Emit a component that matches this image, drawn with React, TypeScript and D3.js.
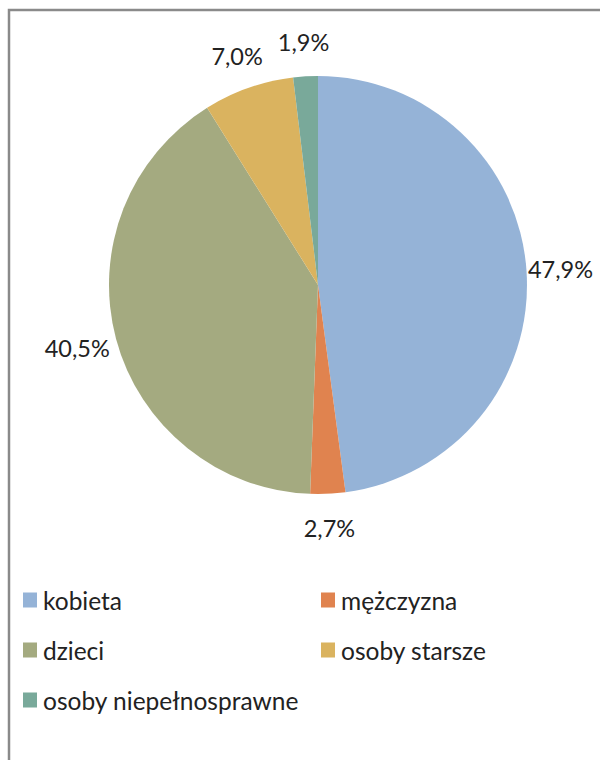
import * as d3 from 'd3';

const labels = ['kobieta', 'mężczyzna', 'dzieci', 'osoby starsze', 'osoby niepełnosprawne'];
const values = [47.9, 2.7, 40.5, 7.0, 1.9];
const colors = ['#95B3D7', '#E0834F', '#A4AA80', '#DAB35F', '#79A99A'];

export default function App() {
  const w = 600;
  const h = 760;
  const cx = 318;
  const cy = 285;
  const r = 209;
  const labelR = 243;
  const font = 'Lato, "Open Sans", sans-serif';

  const pie = d3.pie<number>().sort(null).value((d) => d);
  const arcs = pie(values);
  const arc = d3.arc<d3.PieArcDatum<number>>().innerRadius(0).outerRadius(r);
  const labelArc = d3.arc<d3.PieArcDatum<number>>().innerRadius(labelR).outerRadius(labelR);

  const fmt = (v: number) => v.toFixed(1).replace('.', ',') + '%';

  // legend: two columns, rows filled left to right
  const colX = [23, 321];
  const rowY = [600, 650, 700];

  return (
    <svg
      width={w}
      height={h}
      style={{ position: 'absolute', left: 0, top: 0 }}
      fontFamily={font}
    >
      <rect x={0} y={0} width={w} height={h} fill='#fff' />
      <path d={`M9,${h} V10 H${w}`} fill='none' stroke='#8a8a8a' strokeWidth={2.5} />
      <g transform={`translate(${cx},${cy})`}>
        {arcs.map((a, i) => (
          <path key={labels[i]} d={arc(a) ?? ''} fill={colors[i]} />
        ))}
        {arcs.map((a, i) => {
          const [x, y] = labelArc.centroid(a);
          // nudge left-side labels a little further out, like the original
          const dx = x < -100 ? -6 : 0;
          return (
            <text
              key={labels[i]}
              x={x + dx}
              y={y}
              textAnchor='middle'
              dominantBaseline='central'
              fontSize={23.5}
              fill='#222'
            >
              {fmt(values[i])}
            </text>
          );
        })}
      </g>
      <g>
        {labels.map((name, i) => {
          const x = colX[i % 2];
          const y = rowY[Math.floor(i / 2)];
          return (
            <g key={name} transform={`translate(${x},${y})`}>
              <rect x={0} y={-7.5} width={14} height={15} fill={colors[i]} />
              <text x={20} y={0} dominantBaseline='central' fontSize={24.5} fill='#222'>
                {name}
              </text>
            </g>
          );
        })}
      </g>
    </svg>
  );
}
